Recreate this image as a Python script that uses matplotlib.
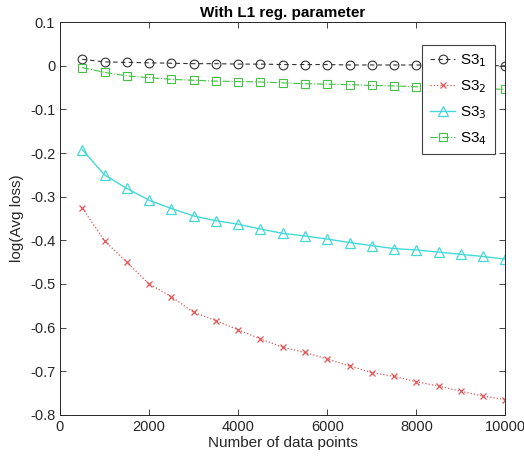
import numpy as np
import matplotlib
matplotlib.use('Agg')
import matplotlib.pyplot as plt
from matplotlib.ticker import FuncFormatter

plt.rcParams['font.family'] = ['Liberation Sans', 'DejaVu Sans']
plt.rcParams['axes.unicode_minus'] = False

# Data
n_points = [500, 1000, 1500, 2000, 2500, 3000, 3500, 4000, 4500, 5000,
            5500, 6000, 6500, 7000, 7500, 8000, 8500, 9000, 9500, 10000]
s3_1 = [0.015, 0.009, 0.008, 0.007, 0.006, 0.005, 0.005, 0.004, 0.004, 0.003,
        0.003, 0.003, 0.002, 0.002, 0.002, 0.002, 0.001, 0.001, 0.001, 0.0]
s3_2 = [-0.326, -0.401, -0.450, -0.500, -0.529, -0.565, -0.584, -0.605, -0.626, -0.645,
        -0.657, -0.672, -0.688, -0.703, -0.712, -0.724, -0.734, -0.746, -0.757, -0.765]
s3_3 = [-0.192, -0.250, -0.281, -0.308, -0.327, -0.344, -0.355, -0.363, -0.374, -0.384,
        -0.390, -0.397, -0.405, -0.412, -0.419, -0.422, -0.427, -0.432, -0.437, -0.443]
s3_4 = [-0.004, -0.015, -0.023, -0.027, -0.031, -0.033, -0.035, -0.036, -0.037, -0.039,
        -0.041, -0.042, -0.043, -0.045, -0.046, -0.048, -0.049, -0.050, -0.052, -0.054]
labels = ['S3$_1$', 'S3$_2$', 'S3$_3$', 'S3$_4$']

fig = plt.figure(figsize=(5.24, 4.63), dpi=100)
ax = fig.add_axes([0.1145, 0.104, 0.85, 0.848])

ax.plot(n_points, s3_1, color='#333333', ls='--', lw=0.8, marker='o', ms=6.3,
        mfc='none', mew=0.8, dashes=(4, 3), label=labels[0])
ax.plot(n_points, s3_2, color='#e05555', ls=':', lw=0.9, marker='x', ms=5,
        mew=0.9, label=labels[1])
ax.plot(n_points, s3_3, color='#45d8d8', ls='-', lw=1.0, marker='^', ms=7,
        mfc='none', mew=0.9, label=labels[2])
ax.plot(n_points, s3_4, color='#44c044', ls='-.', lw=0.8, marker='s', ms=5.5,
        mfc='none', mew=0.8, label=labels[3])

ax.set_xlim(0, 10000)
ax.set_ylim(-0.8, 0.1)
ax.set_xticks(np.arange(0, 10001, 2000))
ax.set_yticks(np.round(np.arange(-0.8, 0.11, 0.1), 1))
ax.yaxis.set_major_formatter(FuncFormatter(lambda v, p: f'{v:g}' if abs(v) > 1e-9 else '0'))
ax.tick_params(direction='in', top=True, right=True, labelsize=10.5,
               colors='#262626', length=4, width=0.6)
for sp in ax.spines.values():
    sp.set_color('#262626')
    sp.set_linewidth(0.7)

ax.set_xlabel('Number of data points', fontsize=11, color='#262626', labelpad=2)
ax.set_ylabel('log(Avg loss)', fontsize=11, color='#262626', labelpad=4)
ax.set_title('With L1 reg. parameter', fontsize=11, fontweight='bold', pad=4)

leg = ax.legend(loc='upper right', bbox_to_anchor=(0.993, 0.962), fontsize=11,
                fancybox=False, framealpha=1, edgecolor='#404040',
                handlelength=1.7, handletextpad=0.3, borderpad=0.5, labelspacing=0.6)
leg.get_frame().set_linewidth(0.8)

fig.savefig('out.png', dpi=100)
